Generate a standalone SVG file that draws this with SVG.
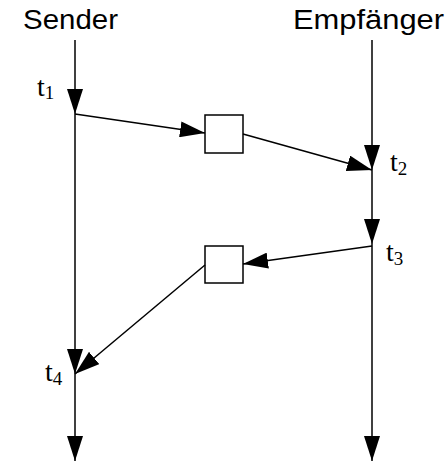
<svg xmlns="http://www.w3.org/2000/svg" width="447" height="461" viewBox="0 0 447 461">
<style>
.ln{stroke:#000;stroke-width:1.5;fill:none;marker-end:url(#ah)}
.box{fill:#fff;stroke:#000;stroke-width:1.5}
.hd{font-family:"Liberation Sans",Arial,sans-serif;font-size:27px;fill:#000}
.tl{font-family:"Liberation Serif","Times New Roman",serif;font-size:28px;fill:#000}
.sub{font-size:19px}
</style>
<defs>
<marker id="ah" markerUnits="userSpaceOnUse" markerWidth="25" markerHeight="16" refX="25" refY="8" orient="auto" viewBox="0 0 25 16">
<path d="M0,0 L25,8 L0,16 z" fill="#000"/>
</marker>
</defs>
<g id="sender">
<text class="hd" x="23" y="29" textLength="95" lengthAdjust="spacingAndGlyphs">Sender</text>
</g>
<g id="empfaenger">
<text class="hd" x="293" y="29" textLength="151" lengthAdjust="spacingAndGlyphs">Empfänger</text>
</g>
<g id="box1"><rect class="box" x="205" y="115" width="38" height="38"/></g>
<g id="box2"><rect class="box" x="205" y="246" width="38" height="37"/></g>
<g id="labels">
<text class="tl" x="37" y="96">t<tspan class="sub" dy="3">1</tspan></text>
<text class="tl" x="390" y="171">t<tspan class="sub" dy="4">2</tspan></text>
<text class="tl" x="386" y="261">t<tspan class="sub" dy="4">3</tspan></text>
<text class="tl" x="45" y="381">t<tspan class="sub" dy="4">4</tspan></text>
</g>
<g id="connectors">
<line class="ln" x1="75" y1="40" x2="75" y2="114"/>
<line class="ln" x1="75" y1="114" x2="75" y2="374"/>
<line class="ln" x1="75" y1="374" x2="75" y2="461"/>
<line class="ln" x1="372" y1="40" x2="372" y2="170"/>
<line class="ln" x1="372" y1="170" x2="372" y2="244"/>
<line class="ln" x1="372" y1="244" x2="372" y2="461"/>
<line class="ln" x1="75" y1="114" x2="205" y2="133"/>
<line class="ln" x1="243" y1="134" x2="372" y2="170"/>
<line class="ln" x1="372" y1="246" x2="243" y2="264"/>
<line class="ln" x1="205" y1="265" x2="75" y2="374"/>
</g>
</svg>
